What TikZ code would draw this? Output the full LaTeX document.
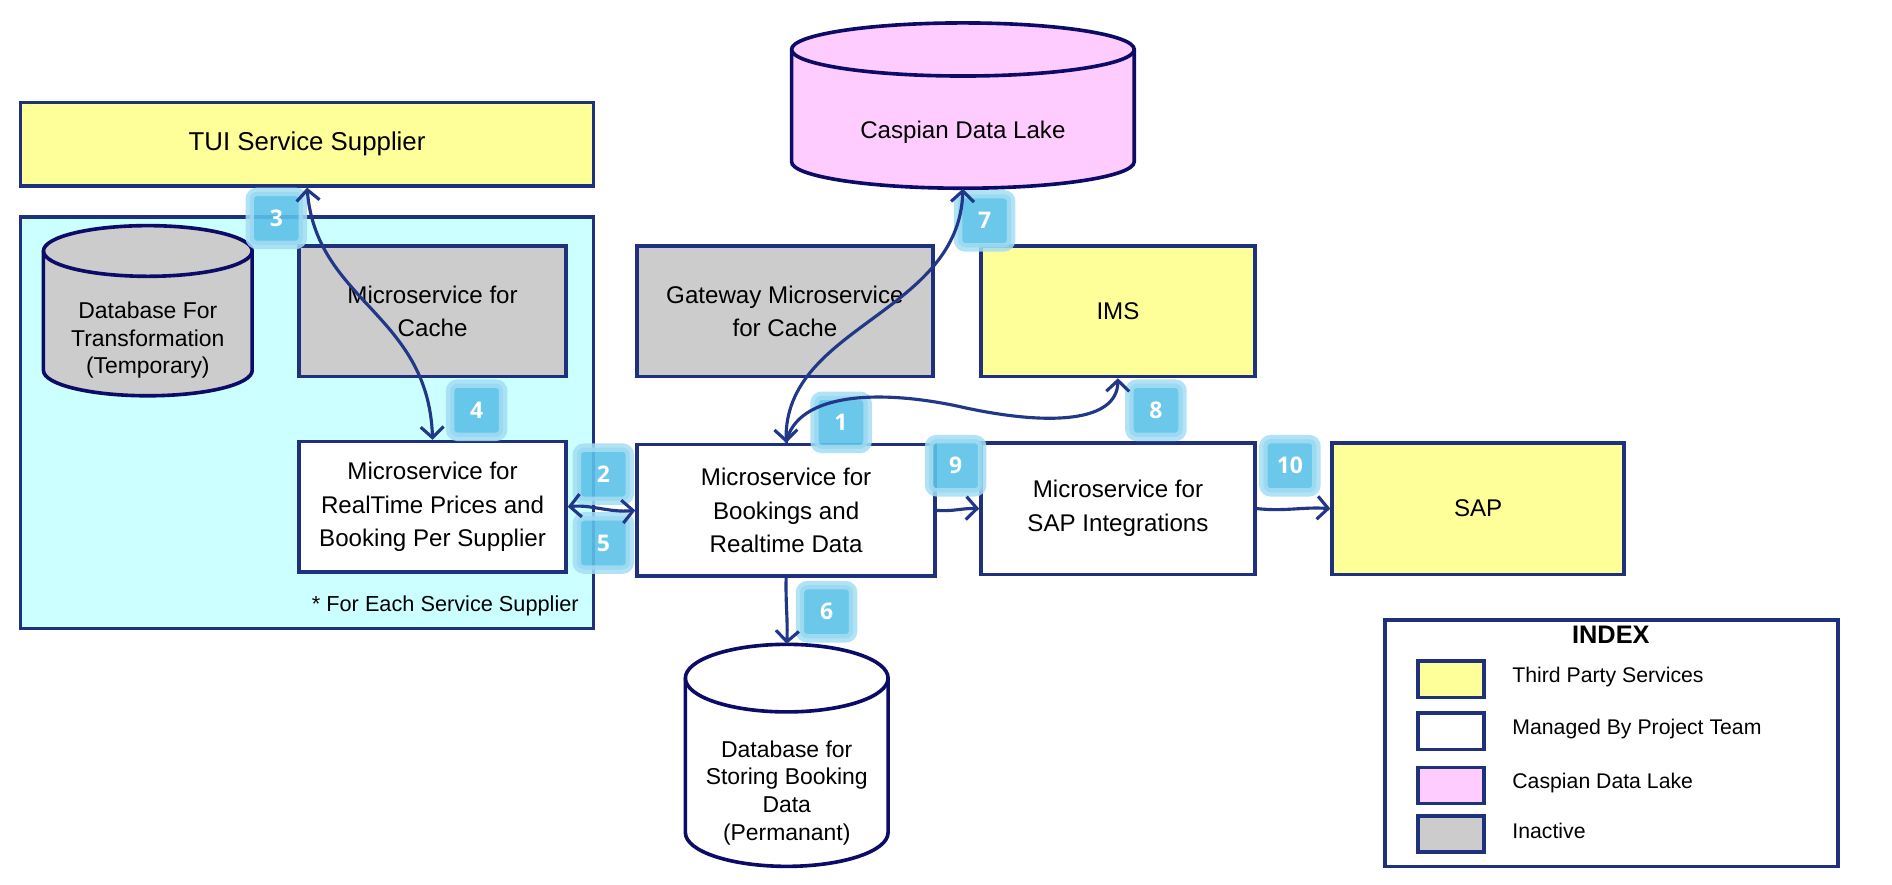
\documentclass[tikz,border=0pt]{standalone}
\usepackage{fontspec}
\setmainfont{Liberation Sans}
\newfontfamily\badgefont{Open Sans}
\usetikzlibrary{arrows.meta}

\definecolor{frame}{RGB}{31,48,125}
\definecolor{drumline}{RGB}{12,12,104}
\definecolor{linkblue}{RGB}{33,55,135}
\definecolor{third}{RGB}{255,255,153}
\definecolor{inactive}{RGB}{204,204,204}
\definecolor{lake}{RGB}{255,204,255}
\definecolor{supplier}{RGB}{204,255,255}
\definecolor{badgecore}{RGB}{91,194,232}
\definecolor{badgehalo}{RGB}{164,221,243}

\begin{document}
\begin{tikzpicture}[x=0.5pt, y=-0.5pt,
    >={Straight Barb[length=4.5pt,width=9.5pt]},
    box/.style={draw=frame, line width=1.5pt, align=center, inner sep=0pt, font=\fontsize{10}{14}\selectfont},
    drum/.style={draw=drumline, line width=1.5pt},
    outline/.style={inner sep=0pt},
    drumtext/.style={align=center, font=\fontsize{9.5}{11.5}\selectfont},
    link/.style={draw=linkblue, line width=1.3pt},
    badge/.style={draw=badgehalo, fill=badgecore, line width=3.5pt, rounded corners=3pt,
        minimum size=22pt, inner sep=0pt, draw opacity=0.85, fill opacity=0.9, text opacity=1,
        text=white, font=\badgefont\bfseries\fontsize{9.5}{11}\selectfont}]

\useasboundingbox (0,0) rectangle (1568,733);

% supplier group
\node[box, fill=supplier, minimum width=237.5pt, minimum height=170.5pt] (suppliers) at (254.5,350.5) {};
\node[anchor=east, inner sep=0pt, font=\fontsize{9}{11}\selectfont] (note) at (480,502) {* For Each Service Supplier};

\node[box, fill=third, minimum width=237.5pt, minimum height=34.5pt, font=\fontsize{10.7}{13}\selectfont] (tui) at (254.5,119.5) {TUI Service Supplier};
\node[box, fill=inactive, minimum width=110.5pt, minimum height=54pt] (cache) at (358.5,258) {Microservice for\\Cache};
\node[box, fill=white, minimum width=110.5pt, minimum height=54pt] (rt) at (358.5,420) {Microservice for\\RealTime Prices and\\Booking Per Supplier};
\node[box, fill=inactive, minimum width=122.5pt, minimum height=54pt] (gw) at (650.5,258) {Gateway Microservice\\for Cache};
\node[box, fill=white, minimum width=123.5pt, minimum height=54.5pt] (book) at (651.5,423) {Microservice for\\Bookings and\\Realtime Data};
\node[box, fill=third, minimum width=113.5pt, minimum height=54pt] (ims) at (926.5,258) {IMS};
\node[box, fill=white, minimum width=113.5pt, minimum height=54.5pt] (sapint) at (926.5,421.5) {Microservice for\\SAP Integrations};
\node[box, fill=third, minimum width=121pt, minimum height=54.5pt] (sap) at (1225,421.5) {SAP};

% databases
\foreach \l/\r/\t/\b/\ry/\f in {36/209/208/307/21/inactive, 656/940/41/134/22/lake, 568/736/562/690/28/white} {
    \pgfmathsetmacro\rx{(\r-\l)/4}
    \pgfmathsetmacro\ryp{\ry/2}
    \filldraw[drum, fill=\f] (\l,\t) -- (\l,\b) arc[start angle=180, end angle=360, x radius=\rx pt, y radius=\ryp pt]
        -- (\r,\t) arc[start angle=0, end angle=180, x radius=\rx pt, y radius=\ryp pt] -- cycle;
    \draw[drum] (\l,\t) arc[start angle=180, end angle=360, x radius=\rx pt, y radius=\ryp pt];
}
\node[outline, minimum width=142pt, minimum height=68.5pt] (lake) at (798,87.5) {};
\node[outline, minimum width=84pt, minimum height=92pt] (sdb) at (652,626) {};
\node[drumtext] (tdbtext) at (122.5,282) {Database For\\Transformation\\(Temporary)};
\node[drumtext, font=\fontsize{10}{12}\selectfont] (laketext) at (798,110) {Caspian Data Lake};
\node[drumtext] (sdbtext) at (652,657) {Database for\\Storing Booking\\Data\\(Permanant)};

% step numbers
\foreach \n/\x/\y in {1/697/350, 2/500/393, 3/229/181, 4/395/340, 5/500/450,
                      6/685/507, 7/816/183, 8/958/340, 9/792/386, 10/1069/386}
    \node[badge] (badge\n) at (\x,\y) {\n};

\draw[link,<->] (tui.south) .. controls (262,250) and (355,260) .. (rt.north);
\draw[link,<->] (lake.south) .. controls (795,260) and (650,270) .. (book.north);
\draw[link,->] (book.north) .. controls (660,325) and (730,322) .. (800,338)
    .. controls (870,353) and (926,350) .. (ims.south);
\draw[link,<->] (rt.east) .. controls (490,418) and (505,425) .. (book.west);
\draw[link,->] (book.east) .. controls (790,424) and (798,421) .. (sapint.west);
\draw[link,->] (sapint.east) .. controls (1065,424) and (1080,420) .. (sap.west);
\draw[link,->] (book.south) .. controls (651,500) and (653,515) .. (sdb.north);

% index
\node[box, fill=white, minimum width=187.5pt, minimum height=102pt] (index) at (1335.5,616) {};
\node[font=\bfseries\fontsize{10.5}{12}\selectfont] (indextitle) at (1335,526) {INDEX};
\foreach \f/\t/\y [count=\i] in {third/Third Party Services/563, white/Managed By Project Team/606,
                                 lake/Caspian Data Lake/651, inactive/Inactive/691} {
    \node[box, fill=\f, minimum width=27.5pt, minimum height=15pt] (key\i) at (1202.5,\y) {};
    \node[anchor=west, inner sep=0pt, font=\fontsize{8.8}{10}\selectfont] (keylabel\i) at (1253,\y-2) {\t};
}

\end{tikzpicture}
\end{document}
